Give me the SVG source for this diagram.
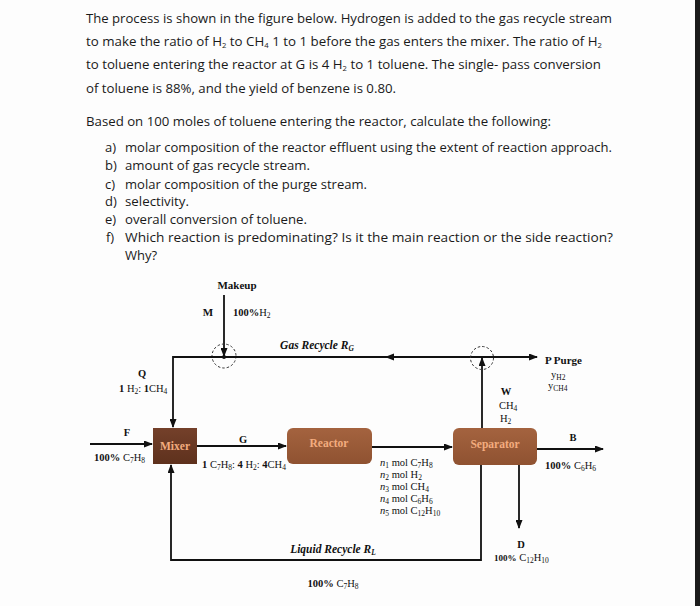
<svg xmlns="http://www.w3.org/2000/svg" width="700" height="606" viewBox="0 0 700 606">
<defs>
<style>
.t{font-family:"Open Sans","DejaVu Sans",sans-serif;font-size:13px;fill:#1a1a1a}
.d{font-family:"Liberation Serif","DejaVu Serif",serif;font-size:10.5px;fill:#111}
.b{font-weight:bold}
.i{font-style:italic}
.s{font-size:7.5px}
.ln{fill:none;stroke:#111;stroke-width:1.8}
.dc{fill:none;stroke:#333;stroke-width:1;stroke-dasharray:2.5,2}
.bt{font-family:"Liberation Serif","DejaVu Serif",serif;font-size:11.5px;font-weight:bold;fill:#f3ac7f;text-anchor:middle}
</style>
<marker id="ah" markerUnits="userSpaceOnUse" markerWidth="9" markerHeight="7" refX="8" refY="3.5" orient="auto">
<path d="M0,0 L9,3.5 L0,7 z" fill="#111"/>
</marker>
<linearGradient id="gm" x1="0" y1="0" x2="0" y2="1"><stop offset="0" stop-color="#74402a"/><stop offset="1" stop-color="#5e311d"/></linearGradient>
<linearGradient id="gr" x1="0" y1="0" x2="0" y2="1"><stop offset="0" stop-color="#a4633f"/><stop offset="1" stop-color="#8f5231"/></linearGradient>
</defs>
<rect width="700" height="606" fill="#fdfdfd"/>
<rect x="695" y="0" width="5" height="606" fill="#1c1c1c"/>

<g id="question">
<text class="t" x="86" y="23" textLength="526" lengthAdjust="spacingAndGlyphs">The process is shown in the figure below. Hydrogen is added to the gas recycle stream</text>
<text class="t" x="86" y="46" textLength="516" lengthAdjust="spacingAndGlyphs">to make the ratio of H<tspan class="s" dy="2">2</tspan><tspan dy="-2"> to CH</tspan><tspan class="s" dy="2">4</tspan><tspan dy="-2"> 1 to 1 before the gas enters the mixer. The ratio of H</tspan><tspan class="s" dy="2">2</tspan></text>
<text class="t" x="86" y="69" textLength="515" lengthAdjust="spacingAndGlyphs">to toluene entering the reactor at G is 4 H<tspan class="s" dy="2">2</tspan><tspan dy="-2"> to 1 toluene. The single- pass conversion</tspan></text>
<text class="t" x="86" y="93" textLength="310" lengthAdjust="spacingAndGlyphs">of toluene is 88%, and the yield of benzene is 0.80.</text>
<text class="t" x="86" y="126" textLength="465" lengthAdjust="spacingAndGlyphs">Based on 100 moles of toluene entering the reactor, calculate the following:</text>
<text class="t" x="105" y="152">a)</text>
<text class="t" x="125" y="152" textLength="487" lengthAdjust="spacingAndGlyphs">molar composition of the reactor effluent using the extent of reaction approach.</text>
<text class="t" x="105" y="170">b)</text>
<text class="t" x="125" y="170" textLength="185" lengthAdjust="spacingAndGlyphs">amount of gas recycle stream.</text>
<text class="t" x="105" y="189">c)</text>
<text class="t" x="125" y="189" textLength="242" lengthAdjust="spacingAndGlyphs">molar composition of the purge stream.</text>
<text class="t" x="105" y="206">d)</text>
<text class="t" x="125" y="206" textLength="64" lengthAdjust="spacingAndGlyphs">selectivity.</text>
<text class="t" x="105" y="224">e)</text>
<text class="t" x="125" y="224" textLength="182" lengthAdjust="spacingAndGlyphs">overall conversion of toluene.</text>
<text class="t" x="106" y="242">f)</text>
<text class="t" x="125" y="242" textLength="488" lengthAdjust="spacingAndGlyphs">Which reaction is predominating? Is it the main reaction or the side reaction?</text>
<text class="t" x="125" y="260">Why?</text>
</g>

<g id="connectors">
<line class="ln" x1="224" y1="295" x2="224" y2="356" marker-end="url(#ah)"/>
<circle cx="224" cy="357" r="2" fill="#111"/>
<circle class="dc" cx="224" cy="356" r="12"/>
<path class="ln" d="M482,357 H173 V427" marker-end="url(#ah)"/>
<path d="M385,357 L394,353.5 L394,360.5 z" fill="#111"/>
<line class="ln" x1="482" y1="428" x2="482" y2="358" marker-end="url(#ah)"/>
<circle class="dc" cx="482" cy="358" r="11.5"/>
<line class="ln" x1="482" y1="357" x2="537" y2="357" marker-end="url(#ah)"/>
<line class="ln" x1="90" y1="444" x2="152" y2="444" marker-end="url(#ah)"/>
<line class="ln" x1="197" y1="446" x2="286" y2="446" marker-end="url(#ah)"/>
<line class="ln" x1="372" y1="447" x2="452" y2="447" marker-end="url(#ah)"/>
<line class="ln" x1="537" y1="449" x2="603" y2="449" marker-end="url(#ah)"/>
<line class="ln" x1="519" y1="465" x2="519" y2="528" marker-end="url(#ah)"/>
<path class="ln" d="M481,465 V560 H171 V465" marker-end="url(#ah)"/>
</g>

<g id="mixer">
<rect x="153" y="428" width="44" height="36" fill="url(#gm)"/>
<text class="bt" x="175" y="450">Mixer</text>
</g>
<g id="reactor">
<rect x="287" y="428" width="85" height="36" rx="6" fill="url(#gr)"/>
<text class="bt" x="329" y="447">Reactor</text>
</g>
<g id="separator">
<rect x="453" y="428" width="84" height="37" rx="6" fill="url(#gr)"/>
<text class="bt" x="495" y="448">Separator</text>
</g>

<g id="labels">
<text class="d b" x="237" y="289" text-anchor="middle" style="font-size:11px">Makeup</text>
<text class="d b" x="208" y="316" text-anchor="middle" style="font-size:11px">M</text>
<text class="d" x="233" y="316"><tspan class="b">100%</tspan>H<tspan class="s" dy="2">2</tspan></text>
<text class="d b i" x="317" y="349" text-anchor="middle" style="font-size:11.5px">Gas Recycle  R<tspan class="s" dy="2">G</tspan></text>
<text class="d b" x="142" y="377" text-anchor="middle">Q</text>
<text class="d" x="119" y="392"><tspan class="b">1</tspan> H<tspan class="s" dy="2">2</tspan><tspan dy="-2">: </tspan><tspan class="b">1</tspan>CH<tspan class="s" dy="2">4</tspan></text>
<text class="d b" x="127" y="436" text-anchor="middle">F</text>
<text class="d" x="94" y="461"><tspan class="b">100%</tspan> C<tspan class="s" dy="2">7</tspan><tspan dy="-2">H</tspan><tspan class="s" dy="2">8</tspan></text>
<text class="d b" x="243" y="443" text-anchor="middle">G</text>
<text class="d" x="202" y="468"><tspan class="b">1</tspan> C<tspan class="s" dy="2">7</tspan><tspan dy="-2">H</tspan><tspan class="s" dy="2">8</tspan><tspan dy="-2">: </tspan><tspan class="b">4</tspan> H<tspan class="s" dy="2">2</tspan><tspan dy="-2">: </tspan><tspan class="b">4</tspan>CH<tspan class="s" dy="2">4</tspan></text>
<text class="d" x="380" y="466"><tspan class="i">n</tspan><tspan class="s" dy="2">1</tspan><tspan dy="-2"> mol C</tspan><tspan class="s" dy="2">7</tspan><tspan dy="-2">H</tspan><tspan class="s" dy="2">8</tspan></text>
<text class="d" x="380" y="478"><tspan class="i">n</tspan><tspan class="s" dy="2">2</tspan><tspan dy="-2"> mol H</tspan><tspan class="s" dy="2">2</tspan></text>
<text class="d" x="380" y="490"><tspan class="i">n</tspan><tspan class="s" dy="2">3</tspan><tspan dy="-2"> mol CH</tspan><tspan class="s" dy="2">4</tspan></text>
<text class="d" x="380" y="502"><tspan class="i">n</tspan><tspan class="s" dy="2">4</tspan><tspan dy="-2"> mol C</tspan><tspan class="s" dy="2">6</tspan><tspan dy="-2">H</tspan><tspan class="s" dy="2">6</tspan></text>
<text class="d" x="380" y="514"><tspan class="i">n</tspan><tspan class="s" dy="2">5</tspan><tspan dy="-2"> mol C</tspan><tspan class="s" dy="2">12</tspan><tspan dy="-2">H</tspan><tspan class="s" dy="2">10</tspan></text>
<text class="d b" x="545" y="364" style="font-size:11px">P Purge</text>
<text class="d" x="551" y="378">y<tspan class="s" dy="2">H2</tspan></text>
<text class="d" x="548" y="389">y<tspan class="s" dy="2">CH4</tspan></text>
<text class="d b" x="506" y="395" text-anchor="middle">W</text>
<text class="d" x="499" y="409">CH<tspan class="s" dy="2">4</tspan></text>
<text class="d" x="500" y="422">H<tspan class="s" dy="2">2</tspan></text>
<text class="d b" x="573" y="441" text-anchor="middle">B</text>
<text class="d" x="545" y="469"><tspan class="b">100%</tspan> C<tspan class="s" dy="2">6</tspan><tspan dy="-2">H</tspan><tspan class="s" dy="2">6</tspan></text>
<text class="d b" x="521" y="548" text-anchor="middle">D</text>
<text class="d" x="494" y="561"><tspan class="b" style="font-size:9px">100%</tspan> C<tspan class="s" dy="2">12</tspan><tspan dy="-2">H</tspan><tspan class="s" dy="2">10</tspan></text>
<text class="d b i" x="333" y="553" text-anchor="middle" style="font-size:11.5px">Liquid Recycle  R<tspan class="s" dy="2">L</tspan></text>
<text class="d" x="333" y="587" text-anchor="middle"><tspan class="b">100%</tspan> C<tspan class="s" dy="2">7</tspan><tspan dy="-2">H</tspan><tspan class="s" dy="2">8</tspan></text>
</g>
</svg>
